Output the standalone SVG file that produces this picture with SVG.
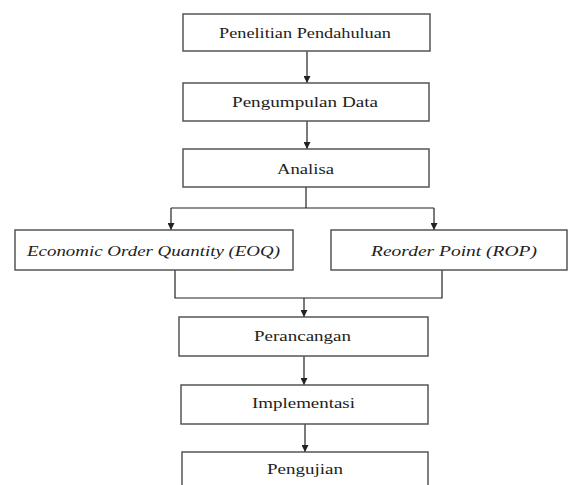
<svg xmlns="http://www.w3.org/2000/svg" width="571" height="485" viewBox="0 0 571 485">
<defs>
<marker id="ah" viewBox="0 0 10 10" refX="10" refY="5" markerWidth="7" markerHeight="7" markerUnits="userSpaceOnUse" orient="auto">
<path d="M0,0 L10,5 L0,10 z" fill="#222"/>
</marker>
<style>
.box{fill:#fff;stroke:#555;stroke-width:1.5}
.t{font-size:15px;fill:#222;text-anchor:middle}
.i{font-style:italic}
.c{fill:none;stroke:#222;stroke-width:1.2}
</style>
</defs>
<rect width="571" height="485" fill="#fff"/>
<g id="connectors">
<line class="c" x1="307" y1="51" x2="307" y2="83" marker-end="url(#ah)"/>
<line class="c" x1="307" y1="121" x2="307" y2="149" marker-end="url(#ah)"/>
<line class="c" x1="306" y1="187" x2="306" y2="208"/>
<line class="c" x1="171" y1="208" x2="434" y2="208"/>
<line class="c" x1="171" y1="208" x2="171" y2="230" marker-end="url(#ah)"/>
<line class="c" x1="434" y1="208" x2="434" y2="230" marker-end="url(#ah)"/>
<polyline class="c" points="175,270 175,298 442,298 442,270"/>
<line class="c" x1="304" y1="298" x2="304" y2="317" marker-end="url(#ah)"/>
<line class="c" x1="304" y1="356" x2="304" y2="385" marker-end="url(#ah)"/>
<line class="c" x1="305" y1="424" x2="305" y2="452" marker-end="url(#ah)"/>
</g>
<g id="n1"><rect class="box" x="183" y="14" width="247" height="37"/><text class="t" font-family="Liberation Serif, Times New Roman, serif" x="305" y="38" textLength="172" lengthAdjust="spacingAndGlyphs">Penelitian Pendahuluan</text></g>
<g id="n2"><rect class="box" x="183" y="83" width="246" height="38"/><text class="t" font-family="Liberation Serif, Times New Roman, serif" x="305" y="107" textLength="146" lengthAdjust="spacingAndGlyphs">Pengumpulan Data</text></g>
<g id="n3"><rect class="box" x="183" y="149" width="246" height="38"/><text class="t" font-family="Liberation Serif, Times New Roman, serif" x="305.5" y="174" textLength="57" lengthAdjust="spacingAndGlyphs">Analisa</text></g>
<g id="n4"><rect class="box" x="15" y="230" width="278" height="40"/><text class="t i" font-family="Liberation Serif, Times New Roman, serif" x="153.5" y="256" textLength="253" lengthAdjust="spacingAndGlyphs">Economic Order Quantity (EOQ)</text></g>
<g id="n5"><rect class="box" x="331" y="230" width="236" height="40"/><text class="t i" font-family="Liberation Serif, Times New Roman, serif" x="454" y="256" textLength="166" lengthAdjust="spacingAndGlyphs">Reorder Point (ROP)</text></g>
<g id="n6"><rect class="box" x="179" y="317" width="249" height="39"/><text class="t" font-family="Liberation Serif, Times New Roman, serif" x="302.5" y="341" textLength="97" lengthAdjust="spacingAndGlyphs">Perancangan</text></g>
<g id="n7"><rect class="box" x="181" y="385" width="247" height="39"/><text class="t" font-family="Liberation Serif, Times New Roman, serif" x="303.5" y="408" textLength="103" lengthAdjust="spacingAndGlyphs">Implementasi</text></g>
<g id="n8"><rect class="box" x="182" y="452" width="246" height="40"/><text class="t" font-family="Liberation Serif, Times New Roman, serif" x="305" y="474" textLength="76" lengthAdjust="spacingAndGlyphs">Pengujian</text></g>
</svg>
